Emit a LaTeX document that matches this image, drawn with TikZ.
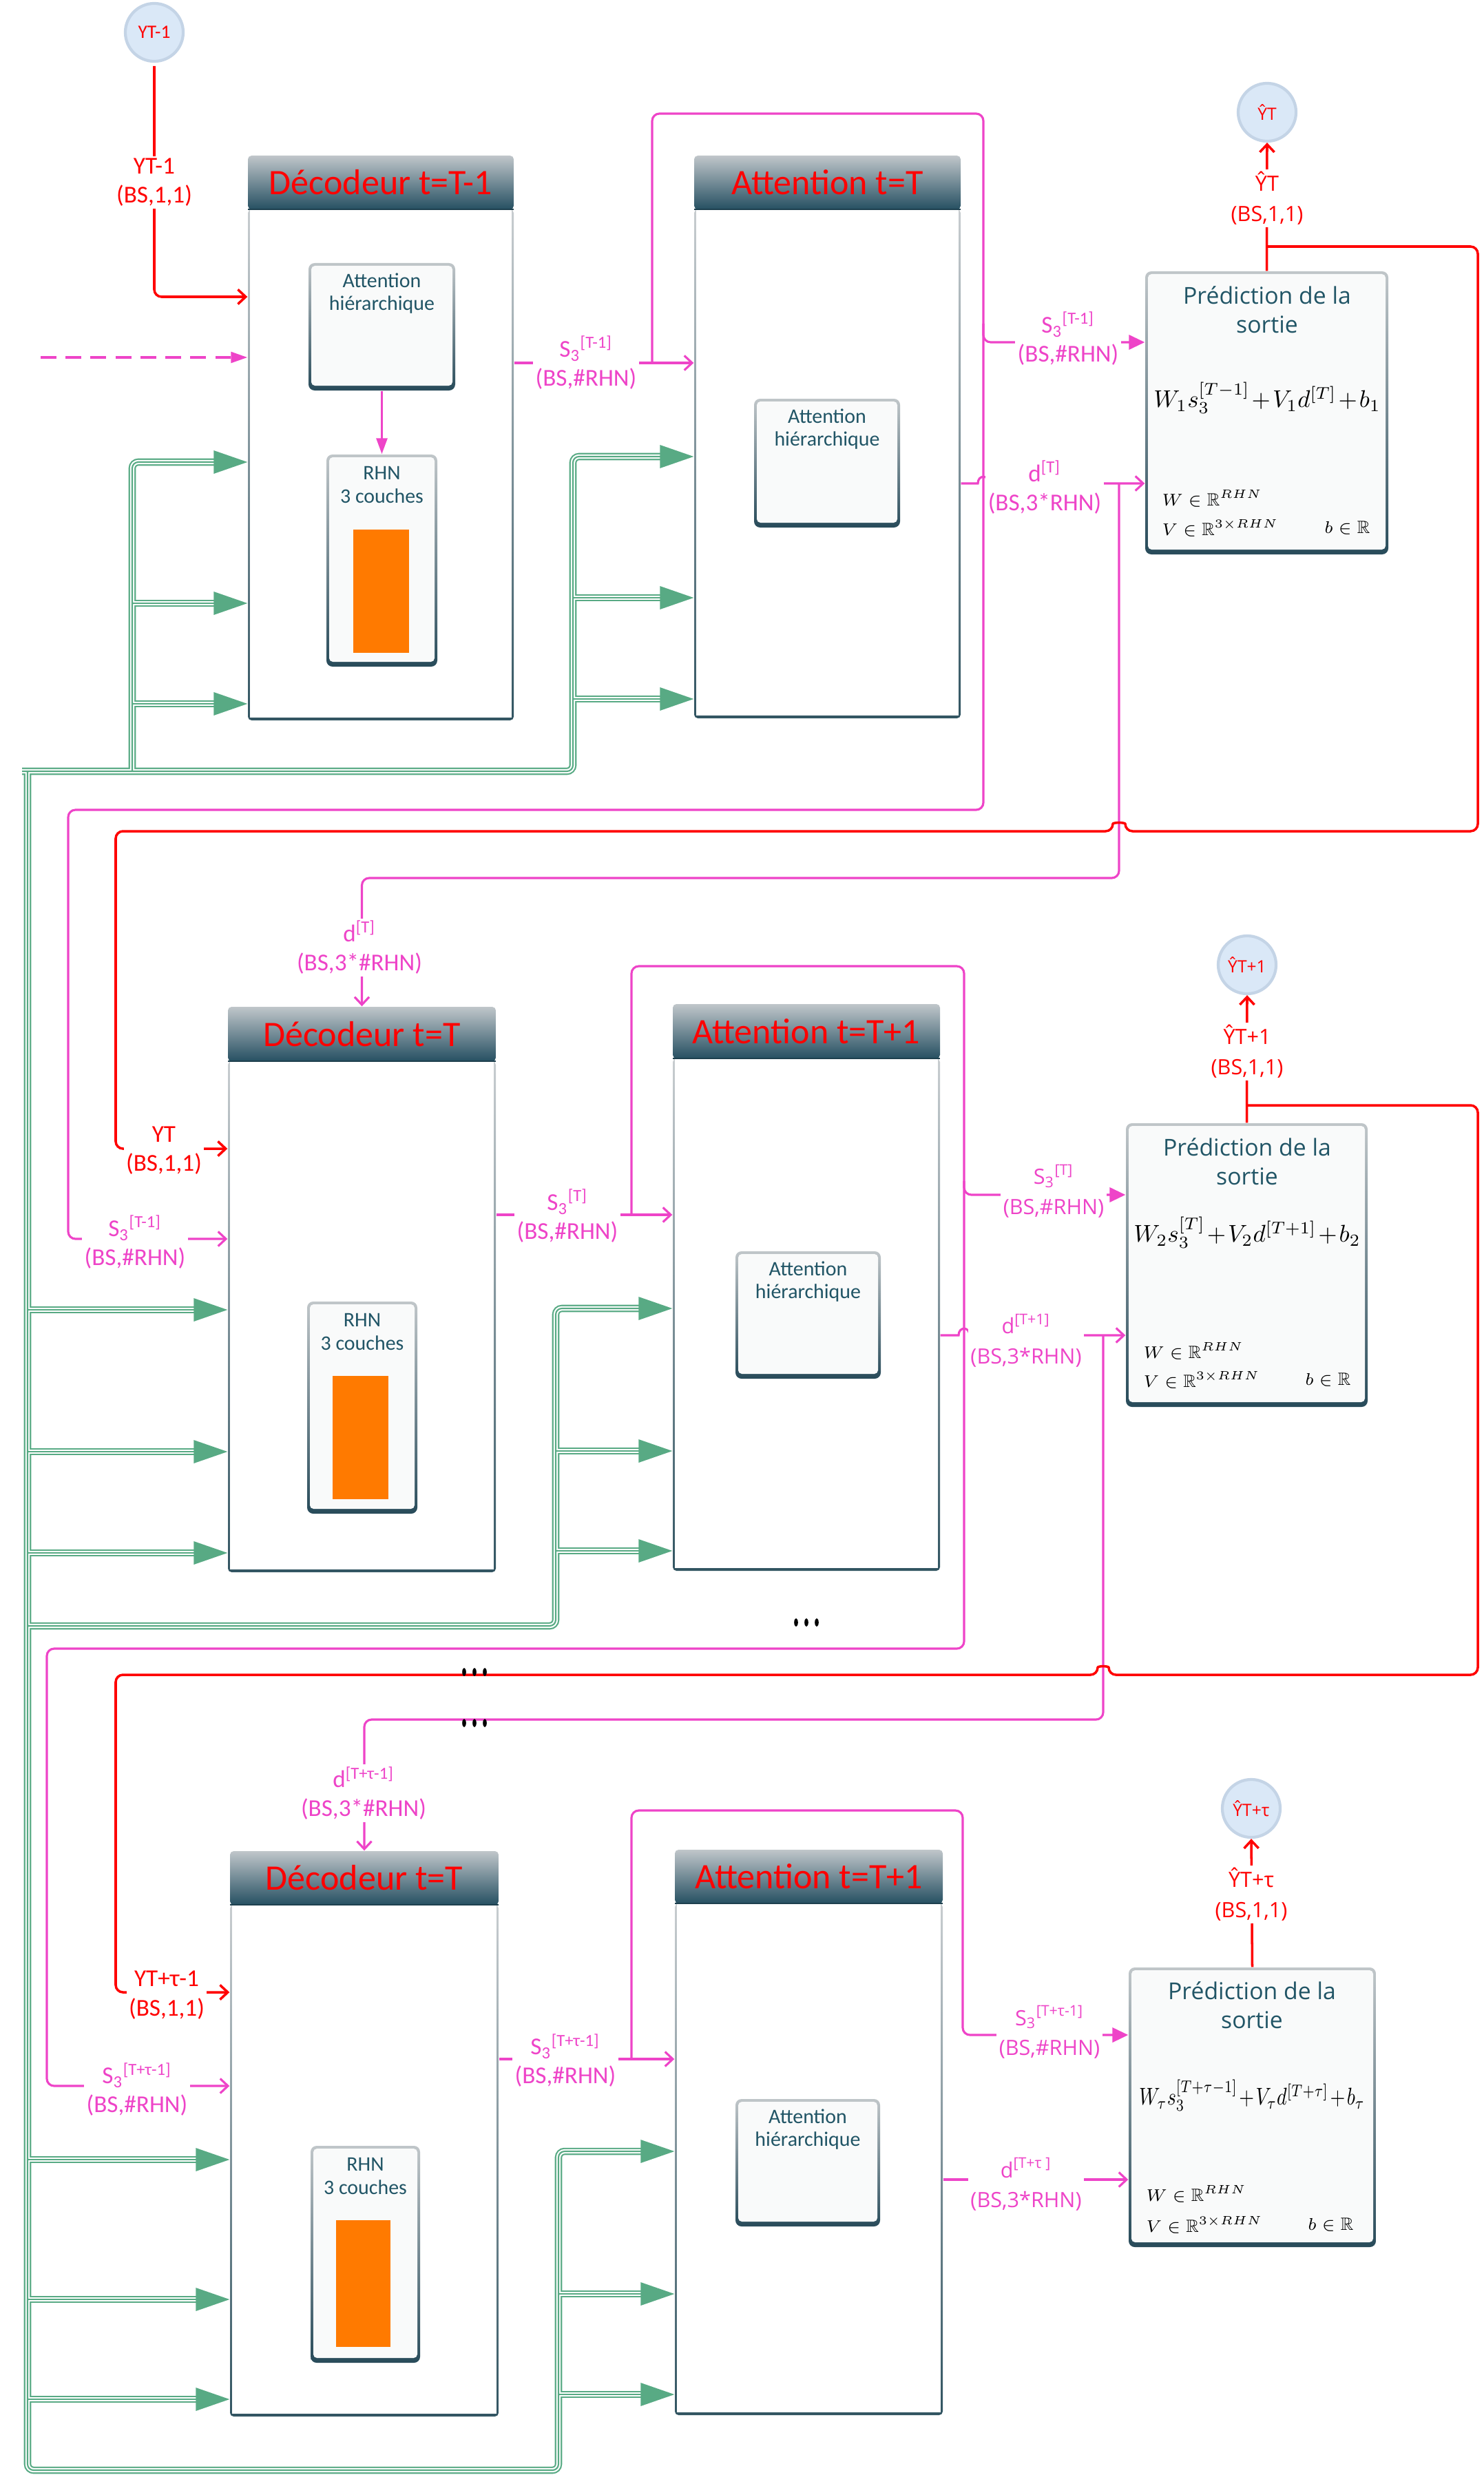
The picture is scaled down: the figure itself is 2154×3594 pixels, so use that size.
\documentclass[tikz,border=0pt]{standalone}
\usepackage{fontspec}
\usepackage{amssymb}
\setmainfont{Carlito}
\newfontfamily\osans{Open Sans}
\usetikzlibrary{arrows.meta,fit,calc}
\definecolor{pk}{RGB}{238,68,200}
\definecolor{rd}{RGB}{255,0,0}
\definecolor{gc}{RGB}{88,170,132}
\definecolor{dteal}{RGB}{33,85,102}
\definecolor{frtop}{RGB}{200,205,208}
\definecolor{frbot}{RGB}{50,85,98}
\definecolor{hdtop}{RGB}{192,198,202}
\definecolor{hdbot}{RGB}{38,80,98}
\definecolor{ibtop}{RGB}{192,198,201}
\definecolor{ibbot}{RGB}{40,75,90}
\definecolor{orng}{RGB}{255,122,0}
\definecolor{cfill}{RGB}{218,232,247}
\definecolor{cedge}{RGB}{196,212,230}
\definecolor{bxf}{RGB}{249,250,250}

\newcommand{\bigbox}[7]{%
  \shade[top color=frtop, bottom color=frbot, rounded corners=1.5pt] (#2,#4) rectangle (#5,#6);
  \fill[white] (#2+3,#4) rectangle (#5-3,#6-4);
  \shade[top color=hdtop, bottom color=hdbot, rounded corners=1.5pt] (#2,#3) rectangle (#5,#4);
  \draw[hdbot!80!black, line width=0.8pt] (#2,#4) -- (#5,#4);
  \node[fit={(#2,#3) (#5,#6)}, inner sep=0pt] (#1) {};
  \node[hdtext] (#1h) at ($(#2,#3)!0.5!(#5,#4)$) {#7};
}
\newcommand{\ibox}[5]{%
  \shade[top color=ibtop, bottom color=ibbot, rounded corners=2.5pt] (#2,#3) rectangle (#4,#5);
  \fill[bxf, rounded corners=1.5pt] (#2+4,#3+4) rectangle (#4-4,#5-7);
  \node[fit={(#2,#3) (#4,#5)}, inner sep=0pt] (#1) {};
}
\newcommand{\garr}[2]{\fill[gc] (#1.west |- 0,#2) -- ++(-49,-17) -- ++(0,34) -- cycle;}
\newcommand{\tdots}[2]{\foreach \dx in {-15,0,15} {\fill[black] (#1+\dx,#2) ellipse [x radius=0.028cm, y radius=0.06cm];}}
\newcommand{\tightmath}{\medmuskip=1.5mu\thickmuskip=2mu\thinmuskip=1mu}
\newcommand{\gnet}[1]{%
  \draw[#1] (32,1120) -- (832,1120) -- (832,663) -- (965,663);
  \draw[#1] (192,1120) -- (192,671) -- (318,671);
  \draw[#1] (192,876) -- (318,876);
  \draw[#1] (192,1022) -- (318,1022);
  \draw[#1] (832,868) -- (965,868);
  \draw[#1] (832,1015) -- (965,1015);
  \draw[#1] (40,1120) -- (40,3587) -- (811,3587) -- (811,3124) -- (937,3124);
  \draw[#1] (811,3331) -- (937,3331);
  \draw[#1] (811,3477) -- (937,3477);
  \draw[#1] (40,3136) -- (291,3136);
  \draw[#1] (40,3339) -- (291,3339);
  \draw[#1] (40,3484) -- (291,3484);
  \draw[#1] (40,2361) -- (807,2361) -- (807,1900) -- (934,1900);
  \draw[#1] (807,2107) -- (934,2107);
  \draw[#1] (807,2252) -- (934,2252);
  \draw[#1] (40,1902) -- (288,1902);
  \draw[#1] (40,2108) -- (288,2108);
  \draw[#1] (40,2255) -- (288,2255);
}

\begin{document}
\begin{tikzpicture}[x=0.01cm, y=-0.01cm,
  pkl/.style={draw=pk, line width=0.9pt},
  rdl/.style={draw=rd, line width=1pt},
  ob/.style={-{Straight Barb[length=3.2pt,width=6pt]}},
  fb/.style={-{Triangle[length=6.5pt,width=6pt]}},
  fbs/.style={-{Triangle[length=6.5pt,width=4.5pt]}},
  lab/.style={fill=white, inner sep=1pt, align=center, font=\fontsize{10}{12}\selectfont},
  labos/.style={fill=white, inner sep=1pt, align=center, font=\osans\fontsize{8.7}{12.5}\selectfont},
  hdtext/.style={text=rd, font=\fontsize{14.8}{17}\selectfont, inner sep=0pt},
  intext/.style={text=dteal, align=center, font=\fontsize{8.5}{9.6}\selectfont, inner sep=0pt},
  ttl/.style={text=dteal, align=center, font=\osans\fontsize{9.6}{12}\selectfont, inner sep=0pt},
  fml/.style={font=\fontsize{9.6}{12}\selectfont\tightmath, inner sep=0pt},
  sml/.style={font=\fontsize{7.3}{9}\selectfont, inner sep=0pt},
  circ/.style={circle, fill=cfill, draw=cedge, line width=1.2pt, minimum size=0.84cm, inner sep=0pt, text=rd},
  gA/.style={draw=gc, line width=3pt, rounded corners=2.5pt},
  gB/.style={draw=white, line width=1.8pt, rounded corners=2.5pt},
  gC/.style={draw=gc, line width=0.6pt, rounded corners=2.5pt},
]
\useasboundingbox (0,0) rectangle (2154,3594);

% ---------- big boxes
\bigbox{dec1}{360}{226}{304}{746}{1046}{Décodeur t=T-1}
\bigbox{att1}{1008}{226}{304}{1395}{1043}{Attention t=T}
\bigbox{dec2}{331}{1462}{1541}{720}{2283}{Décodeur t=T}
\bigbox{att2}{977}{1458}{1537}{1365}{2281}{Attention t=T+1}
\bigbox{dec3}{334}{2688}{2766}{724}{3509}{Décodeur t=T}
\bigbox{att3}{980}{2686}{2764}{1369}{3507}{Attention t=T+1}

% ---------- inner boxes
\ibox{ia1}{448}{382}{661}{567}
\node[intext] (tia1) at (554.5,426) {Attention\\hiérarchique};
\ibox{rhn1}{474}{660}{635}{968}
\node[intext] (trhn1) at (554.5,704) {RHN\\3 couches};
\fill[orng] (513,769) rectangle (594,948);
\ibox{ia2}{1095}{579}{1307}{766}
\node[intext] (tia2) at (1201,623) {Attention\\hiérarchique};
\ibox{rhn2}{446}{1890}{606}{2198}
\node[intext] (trhn2) at (526,1934) {RHN\\3 couches};
\fill[orng] (483,1998) rectangle (564,2177);
\ibox{ia3}{1068}{1817}{1279}{2002}
\node[intext] (tia3) at (1173.5,1861) {Attention\\hiérarchique};
\ibox{rhn3}{451}{3116}{610}{3431}
\node[intext] (trhn3) at (530.5,3160) {RHN\\3 couches};
\fill[orng] (488,3224) rectangle (567,3408);
\ibox{ia4}{1068}{3048}{1278}{3233}
\node[intext] (tia4) at (1173,3092) {Attention\\hiérarchique};

% ---------- prediction boxes
\ibox{pred1}{1663}{394}{2016}{805}
\node[ttl] (tp1) at (1840,450) {Prédiction de la\\sortie};
\node[fml] (fp1) at (1840,578) {$W_1 s_3^{[T-1]} + V_1 d^{[T]} + b_1$};
\node[sml, anchor=west] (wp1) at (1687,724) {$W \in \mathbb{R}^{RHN}$};
\node[sml, anchor=west] (vp1) at (1687,767) {$V \in \mathbb{R}^{3\times RHN}$};
\node[sml, anchor=east] (bp1) at (1990,767) {$b \in \mathbb{R}$};

\ibox{pred2}{1635}{1631}{1986}{2043}
\node[ttl] (tp2) at (1811,1687) {Prédiction de la\\sortie};
\node[fml] (fp2) at (1811,1790) {$W_2 s_3^{[T]} + V_2 d^{[T+1]} + b_2$};
\node[sml, anchor=west] (wp2) at (1660,1962) {$W \in \mathbb{R}^{RHN}$};
\node[sml, anchor=west] (vp2) at (1660,2004) {$V \in \mathbb{R}^{3\times RHN}$};
\node[sml, anchor=east] (bp2) at (1962,2004) {$b \in \mathbb{R}$};

\ibox{pred3}{1639}{2857}{1998}{3263}
\node[ttl] (tp3) at (1818,2912) {Prédiction de la\\sortie};
\node[fml] (fp3) at (1818,3043) {\scalebox{0.8}[1]{$W_\tau s_3^{[T+\tau-1]} + V_\tau d^{[T+\tau]} + b_\tau$}};
\node[sml, anchor=west] (wp3) at (1664,3186) {$W \in \mathbb{R}^{RHN}$};
\node[sml, anchor=west] (vp3) at (1664,3231) {$V \in \mathbb{R}^{3\times RHN}$};
\node[sml, anchor=east] (bp3) at (1966,3231) {$b \in \mathbb{R}$};

% ---------- circles
\node[circ, font=\fontsize{7.8}{9}\selectfont] (c0) at (224,47) {YT-1};
\node[circ, font=\osans\fontsize{7}{9}\selectfont] (c1) at (1840,163) {ŶT};
\node[circ, font=\osans\fontsize{7}{9}\selectfont] (c2) at (1811,1401) {ŶT+1};
\node[circ, font=\osans\fontsize{7}{9}\selectfont] (c3) at (1817,2626) {ŶT+τ};

% ---------- green network
\gnet{gA}
\gnet{gB}
\gnet{gC}
\garr{dec1}{671}\garr{dec1}{876}\garr{dec1}{1022}
\garr{att1}{663}\garr{att1}{868}\garr{att1}{1015}
\garr{dec2}{1902}\garr{dec2}{2108}\garr{dec2}{2255}
\garr{att2}{1900}\garr{att2}{2107}\garr{att2}{2252}
\garr{dec3}{3136}\garr{dec3}{3339}\garr{dec3}{3484}
\garr{att3}{3124}\garr{att3}{3331}\garr{att3}{3477}

% ---------- section 1 connectors
\draw[pkl, dash pattern=on 6.5pt off 3.8pt, -{Triangle[length=6.8pt,width=4.5pt]}] (59,519) -- (dec1.west |- 0,519);
\draw[pkl, fbs] (ia1.south) -- (rhn1.north);
\draw[rdl, ob, rounded corners=3pt] (224,96) -- (224,431) -- (dec1.west |- 0,431);
\draw[pkl, ob] (dec1.east |- 0,527) -- (att1.west |- 0,527);
\draw[pkl, ob, rounded corners=3pt] (947,527) -- (947,165) -- (1428,165) -- (1428,1176) -- (99,1176) -- (99,1799) -- (dec2.west |- 0,1799);
\draw[pkl, fb, rounded corners=3pt] (1428,470) -- (1428,497) -- (pred1.west |- 0,497);
\draw[pkl, ob] (att1.east |- 0,702) -- (1420,702) .. controls (1420,689) and (1436,689) .. (1436,702) -- (pred1.west |- 0,702);
\draw[pkl, ob, rounded corners=3pt] (1625,702) -- (1625,1275) -- (525.5,1275) -- (dec2.north);
\draw[rdl, ob] (pred1.north) -- (c1.south);
\draw[rdl, ob, rounded corners=3pt] (1840,358) -- (2146,358) -- (2146,1207) -- (1634,1207) .. controls (1634,1194) and (1616,1194) .. (1616,1207) -- (168,1207) -- (168,1668) -- (dec2.west |- 0,1668);

% ---------- section 2 connectors
\draw[pkl, ob] (dec2.east |- 0,1764) -- (att2.west |- 0,1764);
\draw[pkl, ob, rounded corners=3pt] (917,1764) -- (917,1403) -- (1400,1403) -- (1400,2394) -- (68,2394) -- (68,3029) -- (dec3.west |- 0,3029);
\draw[pkl, fb, rounded corners=3pt] (1400,1715) -- (1400,1735) -- (pred2.west |- 0,1735);
\draw[pkl, ob] (att2.east |- 0,1939) -- (1392,1939) .. controls (1392,1926) and (1408,1926) .. (1408,1939) -- (pred2.west |- 0,1939);
\draw[pkl, ob, rounded corners=3pt] (1602,1939) -- (1602,2497) -- (529,2497) -- (dec3.north);
\draw[rdl, ob] (pred2.north) -- (c2.south);
\draw[rdl, ob, rounded corners=3pt] (1811,1605) -- (2146,1605) -- (2146,2432) -- (1610,2432) .. controls (1610,2419) and (1594,2419) .. (1594,2432) -- (168,2432) -- (168,2893) -- (dec3.west |- 0,2893);
\tdots{1171}{2356}
\tdots{689}{2428}
\tdots{689}{2502}

% ---------- section 3 connectors
\draw[pkl, ob] (dec3.east |- 0,2990) -- (att3.west |- 0,2990);
\draw[pkl, fb, rounded corners=3pt] (917,2990) -- (917,2629) -- (1398,2629) -- (1398,2955) -- (pred3.west |- 0,2955);
\draw[pkl, ob] (att3.east |- 0,3165) -- (pred3.west |- 0,3165);
\draw[rdl, ob] (pred3.north) -- (c3.south);

% ---------- labels
\node[lab, text=rd] (l1) at (224,265) {YT-1\\(BS,1,1)};
\node[lab, text=pk] (l2) at (851,527) {S\textsubscript{3}\textsuperscript{[T-1]}\\(BS,\#RHN)};
\node[lab, text=pk] (l3) at (1551,492) {S\textsubscript{3}\textsuperscript{[T-1]}\\(BS,\#RHN)};
\node[lab, text=pk] (l4) at (1517,708) {d\textsuperscript{[T]}\\(BS,3*RHN)};
\node[labos, text=rd] (l5) at (1840,288) {ŶT\\(BS,1,1)};
\node[lab, text=pk] (l6) at (522,1376) {d\textsuperscript{[T]}\\(BS,3*\#RHN)};
\node[lab, text=rd] (l7) at (238,1671) {YT\\(BS,1,1)};
\node[lab, text=pk] (l8) at (196,1804) {S\textsubscript{3}\textsuperscript{[T-1]}\\(BS,\#RHN)};
\node[lab, text=pk] (l9) at (824,1766) {S\textsubscript{3}\textsuperscript{[T]}\\(BS,\#RHN)};
\node[labos, text=pk] (l10) at (1530,1730) {S\textsubscript{3}\textsuperscript{[T]}\\(BS,\#RHN)};
\node[labos, text=pk] (l11) at (1490,1947) {d\textsuperscript{[T+1]}\\(BS,3*RHN)};
\node[labos, text=rd] (l12) at (1811,1527) {ŶT+1\\(BS,1,1)};
\node[lab, text=pk] (l13) at (528,2604) {d\textsuperscript{[T+τ-1]}\\(BS,3*\#RHN)};
\node[lab, text=rd] (l14) at (242,2897) {YT+τ-1\\(BS,1,1)};
\node[lab, text=pk] (l15) at (199,3034) {S\textsubscript{3}\textsuperscript{[T+τ-1]}\\(BS,\#RHN)};
\node[lab, text=pk] (l16) at (821,2992) {S\textsubscript{3}\textsuperscript{[T+τ-1]}\\(BS,\#RHN)};
\node[labos, text=pk] (l17) at (1524,2951) {S\textsubscript{3}\textsuperscript{[T+τ-1]}\\(BS,\#RHN)};
\node[labos, text=pk] (l18) at (1490,3172) {d\textsuperscript{[T+τ ]}\\(BS,3*RHN)};
\node[labos, text=rd] (l19) at (1817,2751) {ŶT+τ\\(BS,1,1)};
\end{tikzpicture}
\end{document}
